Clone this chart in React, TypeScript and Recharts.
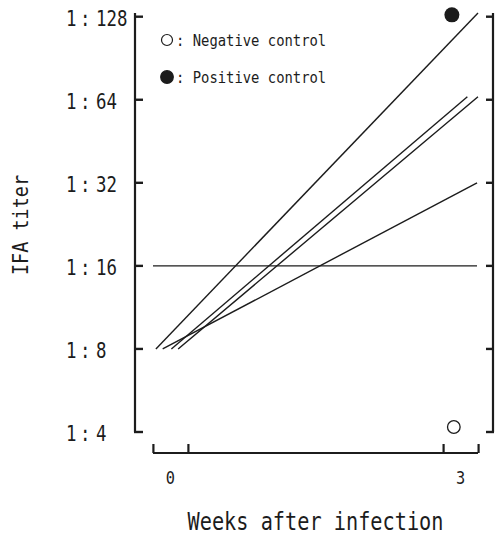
import { ComposedChart, Line, Scatter, XAxis, YAxis, Legend, Label } from 'recharts';

const ink = '#1c1c1c';
const mono = 'DejaVu Sans Mono';

const weekTicks = [0, 3];
const titerTicks = [4, 8, 16, 32, 64, 128];

// each animal: titer at start and at week 3
const animalA = [{ week: -0.15, titer: 8 }, { week: 3.18, titer: 132 }];
const animalB = [{ week: 0.01, titer: 8 }, { week: 3.07, titer: 65.6 }];
const animalC = [{ week: 0.08, titer: 8 }, { week: 3.18, titer: 65.6 }];
const animalD = [{ week: -0.08, titer: 8 }, { week: 3.17, titer: 32 }];
const cutoff = [{ week: -0.18, titer: 16 }, { week: 3.17, titer: 16 }];

const positiveControl = [{ week: 2.91, titer: 130 }];
const negativeControl = [{ week: 2.93, titer: 4.17 }];

const legendItems = [
  { label: 'Negative control', filled: false },
  { label: 'Positive control', filled: true },
];

const series = [animalA, animalB, animalC, animalD, cutoff];

// x is the axis position; tick marks point into the plot
function TiterTick({ x, y, payload }: any) {
  return (
    <g>
      <path d={`M${x - 1},${y}H${x + 8}`} stroke={ink} strokeWidth={2.4} fill="none" />
      <g transform={`translate(${x - 69},${y + 9}) scale(0.85,1)`}>
        <text fontSize={20.5} fontFamily={mono} fill={ink}>
          <tspan>1</tspan>
          <tspan dx={4}>:</tspan>
          <tspan dx={6.6}>{payload.value}</tspan>
        </text>
      </g>
    </g>
  );
}

function RightTick({ x, y }: any) {
  return <path d={`M${x - 7},${y}H${x + 1}`} stroke={ink} strokeWidth={2.4} fill="none" />;
}

function WeekTick({ x, y, payload }: any) {
  return (
    <g>
      <line x1={x - 17} x2={x - 17} y1={y - 9} y2={y} stroke={ink} strokeWidth={2.2} />
      <line x1={x + 18} x2={x + 18} y1={y - 9} y2={y} stroke={ink} strokeWidth={2.2} />
      <g transform={`translate(${x},${y + 31}) scale(0.85,1)`}>
        <text textAnchor="middle" fontSize={18} fontFamily={mono} fill={ink}>
          {payload.value}
        </text>
      </g>
    </g>
  );
}

function YTitle({ viewBox }: any) {
  const cy = viewBox.y + viewBox.height / 2 + 2.5;
  return (
    <text
      transform={`translate(${viewBox.x + 28},${cy}) rotate(-90) scale(0.84,1)`}
      textAnchor="middle"
      fontSize={22}
      fontFamily={mono}
      fill={ink}
    >
      IFA titer
    </text>
  );
}

function XTitle({ viewBox }: any) {
  const cx = viewBox.x + viewBox.width / 2;
  return (
    <text
      transform={`translate(${cx},${viewBox.y + 77}) scale(0.82,1)`}
      textAnchor="middle"
      fontSize={24.7}
      fontFamily={mono}
      fill={ink}
    >
      Weeks after infection
    </text>
  );
}

function ControlLegend() {
  return (
    <div style={{ fontFamily: mono, fontSize: 16.5, color: ink }}>
      {legendItems.map((item, i) => (
        <div
          key={item.label}
          style={{ display: 'flex', alignItems: 'center', height: 24, marginTop: i ? 13 : 0 }}
        >
          <svg width={24} height={24}>
            <circle
              cx={12}
              cy={12}
              r={item.filled ? 6.3 : 5.5}
              fill={item.filled ? ink : 'none'}
              stroke={ink}
              strokeWidth={1.2}
            />
          </svg>
          <span
            style={{
              display: 'inline-block',
              whiteSpace: 'pre',
              transform: 'scaleX(0.84)',
              transformOrigin: 'left center',
            }}
          >
            {': ' + item.label}
          </span>
        </div>
      ))}
    </div>
  );
}

const filledDot = (p: any) => <circle cx={p.cx} cy={p.cy} r={7.5} fill={ink} />;
const hollowDot = (p: any) => (
  <circle cx={p.cx} cy={p.cy} r={6.3} fill="#fff" stroke={ink} strokeWidth={1.3} />
);

const axisStroke = { stroke: ink, strokeWidth: 2.2 };

export default function App() {
  return (
    <div style={{ position: 'absolute', left: 0, top: 0, width: 495, height: 538, background: '#fff' }}>
      <ComposedChart width={495} height={538} margin={{ top: 13, right: 0, bottom: 0, left: 0 }}>
        {/* gap axes sit next to the plot and push the drawn axes outward, like the original */}
        <YAxis yAxisId="gapL" type="number" domain={[0, 1]} width={18} tick={false} axisLine={false} tickLine={false} />
        <YAxis yAxisId="gapR" orientation="right" type="number" domain={[0, 1]} width={15} tick={false} axisLine={false} tickLine={false} />
        <XAxis xAxisId="gapB" type="number" domain={[0, 1]} height={21} tick={false} axisLine={false} tickLine={false} />

        <YAxis
          yAxisId="left"
          dataKey="titer"
          type="number"
          scale="log"
          domain={[4, 132]}
          ticks={titerTicks}
          interval={0}
          width={135}
          tickSize={0}
          tickMargin={0}
          tickLine={false}
          axisLine={axisStroke}
          tick={<TiterTick />}
        >
          <Label content={<YTitle />} />
        </YAxis>
        <XAxis
          xAxisId="x"
          dataKey="week"
          type="number"
          domain={[-0.18, 3.18]}
          ticks={weekTicks}
          interval={0}
          height={85}
          tickSize={0}
          tickMargin={0}
          tickLine={false}
          axisLine={axisStroke}
          tick={<WeekTick />}
        >
          <Label content={<XTitle />} />
        </XAxis>
        {/* mirror of the titer axis on the right; no series on it, so its domain is fixed */}
        <YAxis
          yAxisId="right"
          orientation="right"
          type="number"
          scale="log"
          domain={[4, 132]}
          allowDataOverflow
          ticks={titerTicks}
          interval={0}
          width={2}
          tickSize={0}
          tickMargin={0}
          tickLine={false}
          axisLine={axisStroke}
          tick={<RightTick />}
        />

        {series.map((d, i) => (
          <Line
            key={i}
            data={d}
            dataKey="titer"
            xAxisId="x"
            yAxisId="left"
            stroke={ink}
            strokeWidth={1.4}
            dot={false}
            activeDot={false}
            isAnimationActive={false}
          />
        ))}
        <Scatter data={positiveControl} xAxisId="x" yAxisId="left" shape={filledDot} isAnimationActive={false} />
        <Scatter data={negativeControl} xAxisId="x" yAxisId="left" shape={hollowDot} isAnimationActive={false} />

        <Legend
          layout="vertical"
          align="center"
          verticalAlign="middle"
          content={<ControlLegend />}
          wrapperStyle={{ left: 155, top: 28, width: 200 }}
        />
      </ComposedChart>
    </div>
  );
}
